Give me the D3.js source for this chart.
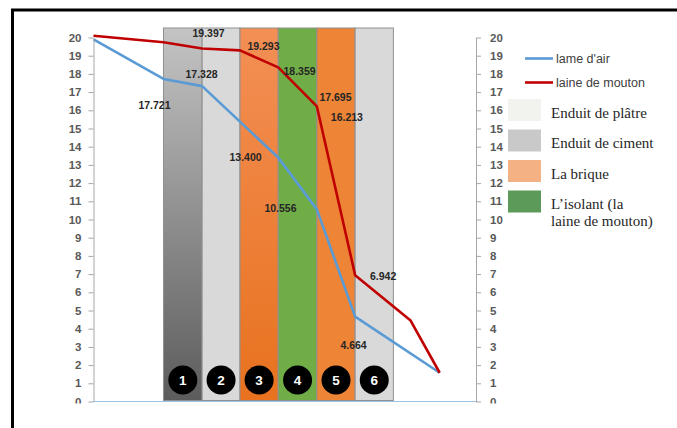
<!DOCTYPE html>
<html>
<head>
<meta charset="utf-8">
<script src="https://cdn.jsdelivr.net/npm/d3@7"></script>
<style>
  html, body { margin: 0; padding: 0; background: #fff; }
  svg { display: block; }
</style>
</head>
<body>
<svg id="chart" width="677" height="428"></svg>
<script>
// Wall cross-section: layer boundaries along the wall thickness
const layerEdges = [1.83, 2.84, 3.83, 4.83, 5.84, 6.84, 7.84];
const layerNumbers = [1, 2, 3, 4, 5, 6];

// Temperature profile through the wall, air gap version
const airDepth = [0, 1.83, 2.84, 4.83, 5.84, 6.84, 9.05];
const airTemp  = [19.9, 17.721, 17.328, 13.400, 10.556, 4.664, 1.58];
const airLabelIdx = [1, 2, 3, 4, 5];

// Temperature profile through the wall, sheep wool version
const woolDepth = [0, 1.83, 2.84, 3.83, 4.83, 5.84, 6.84, 8.29, 9.05];
const woolTemp  = [20.1, 19.74, 19.397, 19.293, 18.359, 16.213, 6.942, 4.45, 1.58];
const woolLabelIdx = [2, 3, 4, 5, 6];
const woolExtraValue = 17.695;

// Axis ticks and legend entries
const tempTicks = d3.range(0, 21);
const seriesNames = ["lame d'air", "laine de mouton"];
const materialNames = ["Enduit de plâtre", "Enduit de ciment", "La brique", ["L\u2019isolant (la", "laine de mouton)"]];

// ---- styling / layout ----
const layerFill = ["url(#gCiment)", "#d9d9d9", "url(#gBrique)", "#70ad47", "#ee8436", "#d9d9d9"];
const seriesColor = ["#5b9bd5", "#c00000"];
const materialColor = ["#f2f2ee", "#c9c9c9", "#f4b183", "#5c9a5a"];

// label nudges in px from their vertex
const airLabelOffset  = [[-9, 26.3], [-0.6, -12], [-32.7, -0.3], [-36.4, -1.1], [-1.6, 29.1]];
const woolLabelOffset = [[6.4, -15], [23.5, -4.4], [21.3, 4.3], [30, 11.3], [28, 1]];
const woolExtraOffset = [18.6, -8.7];

const svg = d3.select("#chart");
const x = d3.scaleLinear().domain([0, 10]).range([93.5, 476]);
const y = d3.scaleLinear().domain([0, 20]).range([401.5, 37.5]);
const barTop = 28, barBottom = 400.5;

const defs = svg.append("defs");
const g1 = defs.append("linearGradient").attr("id", "gCiment").attr("x1", 0).attr("y1", 0).attr("x2", 0).attr("y2", 1);
g1.append("stop").attr("offset", 0).attr("stop-color", "#c4c4c4");
g1.append("stop").attr("offset", 1).attr("stop-color", "#5c5c5c");
const g3 = defs.append("linearGradient").attr("id", "gBrique").attr("x1", 0).attr("y1", 0).attr("x2", 0).attr("y2", 1);
g3.append("stop").attr("offset", 0).attr("stop-color", "#f38f55");
g3.append("stop").attr("offset", 1).attr("stop-color", "#e8721e");
// trims the lower half of the "0" tick labels at the plot floor
defs.append("clipPath").attr("id", "axisClip").append("rect")
  .attr("x", -1000).attr("y", 0).attr("width", 3000).attr("height", 403.5);

// Layer bands
const layers = layerNumbers.map((n, i) => ({ n, x0: layerEdges[i], x1: layerEdges[i + 1], i }));
svg.append("g").selectAll("rect").data(layers).join("rect")
  .attr("x", d => x(d.x0))
  .attr("y", barTop)
  .attr("width", d => x(d.x1) - x(d.x0))
  .attr("height", barBottom - barTop)
  .attr("fill", d => layerFill[d.i])
  .attr("stroke", "#8f8f8f")
  .attr("stroke-width", 1);

// Base line
svg.append("line")
  .attr("x1", x(0)).attr("x2", x(10)).attr("y1", y(0)).attr("y2", y(0))
  .attr("stroke", "#9dc3e6").attr("stroke-width", 1);

// Temperature lines
const line = d3.line().x(d => x(d[0])).y(d => y(d[1]));
const airPts = airDepth.map((d, i) => [d, airTemp[i]]);
const woolPts = woolDepth.map((d, i) => [d, woolTemp[i]]);
svg.append("path").datum(airPts).attr("d", line)
  .attr("fill", "none").attr("stroke", seriesColor[0]).attr("stroke-width", 2.6).attr("stroke-linejoin", "round");
svg.append("path").datum(woolPts).attr("d", line)
  .attr("fill", "none").attr("stroke", seriesColor[1]).attr("stroke-width", 2.6).attr("stroke-linejoin", "round");

// Numbered layer markers
const mk = svg.append("g").selectAll("g").data(layers).join("g")
  .attr("transform", d => `translate(${(x(d.x0) + x(d.x1)) / 2},${y(0) - 21.5})`);
mk.append("circle").attr("r", 14.5).attr("fill", "#000");
mk.append("text").text(d => d.n)
  .attr("text-anchor", "middle").attr("dy", "0.36em")
  .attr("fill", "#fff").attr("font-family", "Liberation Sans, Arial, sans-serif")
  .attr("font-weight", "bold").attr("font-size", 13.5);

// Value labels
const fmt = d3.format(".3f");
const labelFont = "Liberation Sans, Arial, sans-serif";
const lab = svg.append("g")
  .attr("font-family", labelFont).attr("font-weight", "bold").attr("font-size", 10.5)
  .attr("fill", "#262626").attr("text-anchor", "middle");
airLabelIdx.forEach((k, j) => {
  lab.append("text").text(fmt(airTemp[k]))
    .attr("x", x(airDepth[k]) + airLabelOffset[j][0])
    .attr("y", y(airTemp[k]) + airLabelOffset[j][1])
    .attr("dy", "0.35em");
});
woolLabelIdx.forEach((k, j) => {
  lab.append("text").text(fmt(woolTemp[k]))
    .attr("x", x(woolDepth[k]) + woolLabelOffset[j][0])
    .attr("y", y(woolTemp[k]) + woolLabelOffset[j][1])
    .attr("dy", "0.35em");
});
lab.append("text").text(fmt(woolExtraValue))
  .attr("x", x(woolDepth[5]) + woolExtraOffset[0])
  .attr("y", y(woolTemp[5]) + woolExtraOffset[1])
  .attr("dy", "0.35em");

// Temperature axes, left and right
function styleAxis(g) {
  g.select(".domain").attr("stroke", "#a6a6a6");
  g.selectAll(".tick line").attr("stroke", "#a6a6a6");
  g.selectAll(".tick text").attr("fill", "#595959")
    .attr("font-family", labelFont).attr("font-weight", "bold").attr("font-size", 11.5);
}
svg.append("g").attr("clip-path", "url(#axisClip)").append("g")
  .attr("transform", `translate(${x(0)},0)`)
  .call(d3.axisLeft(y).tickValues(tempTicks).tickFormat(d3.format("d")).tickSize(5).tickSizeOuter(0).tickPadding(7))
  .call(styleAxis);
svg.append("g").attr("clip-path", "url(#axisClip)").append("g")
  .attr("transform", `translate(${x(10)},0)`)
  .call(d3.axisRight(y).tickValues(tempTicks).tickFormat(d3.format("d")).tickSize(5).tickSizeOuter(0).tickPadding(9))
  .call(styleAxis);

// Legend: series
const leg = svg.append("g");
seriesNames.forEach((name, i) => {
  const ly = 58.5 + i * 24;
  leg.append("line").attr("x1", 525).attr("x2", 553).attr("y1", ly).attr("y2", ly)
    .attr("stroke", seriesColor[i]).attr("stroke-width", 2.6);
  leg.append("text").text(name).attr("x", 556).attr("y", ly).attr("dy", "0.35em")
    .attr("font-family", labelFont).attr("font-size", 12.5).attr("fill", "#404040");
});
// Legend: materials
materialNames.forEach((name, i) => {
  const top = 99 + i * 30.5;
  leg.append("rect").attr("x", 508).attr("y", top).attr("width", 33).attr("height", 22)
    .attr("fill", materialColor[i]);
  const lines = Array.isArray(name) ? name : [name];
  lines.forEach((t, k) => {
    leg.append("text").text(t).attr("x", 551).attr("y", top + 18.5 + k * 17)
      .attr("font-family", "Liberation Serif, Times New Roman, serif")
      .attr("font-size", 15).attr("fill", "#262626");
  });
});

// Outer frame
svg.append("rect").attr("x", 12.5).attr("y", 10).attr("width", 700).attr("height", 450)
  .attr("fill", "none").attr("stroke", "#000").attr("stroke-width", 3);
</script>
</body>
</html>
